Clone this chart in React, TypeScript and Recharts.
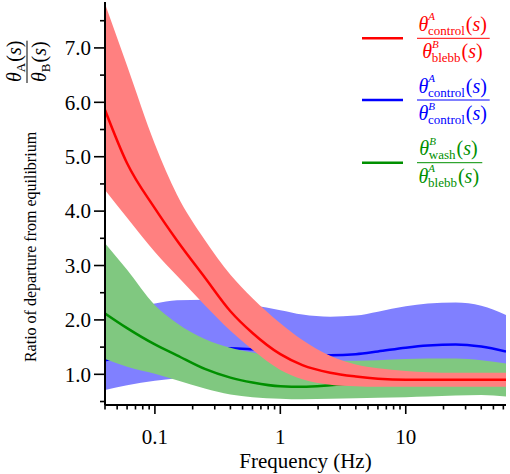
import React from "react";
import { ComposedChart, Area, XAxis, YAxis, Legend } from "recharts";

const SERIF = "Liberation Serif, Tinos, Times New Roman, DejaVu Serif, serif";

// frequency grid (Hz)
const freq = [0.04, 0.06, 0.1, 0.15, 0.25, 0.4, 0.6, 1, 1.5, 2.5, 4, 6, 10, 15, 25, 40, 63];

// theta^A_control / theta^B_blebb
const redLow = [4.39, 3.88, 3.25, 2.81, 2.27, 1.8, 1.45, 1.08, 0.91, 0.81, 0.78, 0.77, 0.77, 0.77, 0.77, 0.77, 0.77];
const redMid = [5.86, 4.88, 4.05, 3.46, 2.78, 2.16, 1.76, 1.37, 1.17, 1.03, 0.96, 0.92, 0.9, 0.9, 0.9, 0.9, 0.9];
const redHigh = [7.81, 6.67, 5.23, 4.3, 3.47, 2.83, 2.4, 1.94, 1.63, 1.34, 1.18, 1.11, 1.06, 1.04, 1.03, 1.03, 1.03];

// theta^A_control / theta^B_control
const blueLow = [0.71, 0.8, 0.88, 0.93, 0.97, 0.98, 0.97, 0.95, 0.93, 0.92, 0.93, 0.96, 1.0, 1.03, 1.04, 1.01, 0.95];
const blueMid = [1.26, 1.33, 1.4, 1.45, 1.48, 1.48, 1.46, 1.42, 1.38, 1.35, 1.37, 1.42, 1.49, 1.53, 1.55, 1.51, 1.42];
const blueHigh = [2.05, 2.2, 2.3, 2.36, 2.37, 2.33, 2.27, 2.18, 2.1, 2.06, 2.08, 2.15, 2.25, 2.3, 2.32, 2.26, 2.09];

// theta^B_wash / theta^A_blebb
const greenLow = [1.28, 1.14, 1.01, 0.89, 0.74, 0.63, 0.58, 0.55, 0.54, 0.55, 0.56, 0.57, 0.58, 0.59, 0.61, 0.62, 0.59];
const greenMid = [2.12, 1.85, 1.55, 1.35, 1.1, 0.94, 0.85, 0.78, 0.77, 0.8, 0.84, 0.87, 0.89, 0.9, 0.9, 0.9, 0.9];
const greenHigh = [3.41, 2.92, 2.27, 1.94, 1.65, 1.49, 1.4, 1.31, 1.27, 1.25, 1.25, 1.26, 1.28, 1.29, 1.29, 1.26, 1.2];

const xTicks = [
  0.04, 0.05, 0.06, 0.07, 0.08, 0.09, 0.1, 0.2, 0.3, 0.4, 0.5, 0.6, 0.7, 0.8, 0.9,
  1, 2, 3, 4, 5, 6, 7, 8, 9, 10, 20, 30, 40, 50, 60,
];
const xLabels = [0.1, 1, 10];
const yTicks = [0.5, 1, 1.5, 2, 2.5, 3, 3.5, 4, 4.5, 5, 5.5, 6, 6.5, 7, 7.5];

const legendItems = [
  { color: "#ff0000", num: ["A", "control"], den: ["B", "blebb"] },
  { color: "#0000ff", num: ["A", "control"], den: ["B", "control"] },
  { color: "#009000", num: ["B", "wash"], den: ["A", "blebb"] },
];

const data = freq.map((f, i) => ({
  f,
  red: [redLow[i], redHigh[i]],
  redMid: redMid[i],
  blue: [blueLow[i], blueHigh[i]],
  blueMid: blueMid[i],
  green: [greenLow[i], greenHigh[i]],
  greenMid: greenMid[i],
}));

// rough glyph widths, used to stack sub/superscripts
const CHAR_W: Record<string, number> = {
  a: 0.5, b: 0.53, c: 0.48, e: 0.52, h: 0.53, l: 0.22, n: 0.53, o: 0.53,
  r: 0.33, s: 0.45, t: 0.28, w: 0.72, A: 0.64, B: 0.64,
};
const textW = (s: string, size: number) =>
  s.split("").reduce((w, c) => w + (CHAR_W[c] ?? 0.5) * size, 0);

const THETA_W = 11;
const PAREN_W = 20;
const SUP = 11;
const SUB = 13;

const thetaWidth = (sup: string | null, sub: string) =>
  THETA_W + Math.max(textW(sub, SUB), sup ? textW(sup, SUP) : 0) + 1 + PAREN_W;

// θ with optional superscript and a subscript, then (s)
const Theta = ({ x, y, sup, sub }: any) => {
  const supW = sup ? textW(sup, SUP) : 0;
  const subW = textW(sub, SUB);
  return (
    <text x={x} y={y} fontSize={20} style={{ fontFamily: SERIF }}>
      <tspan fontStyle="italic">θ</tspan>
      {sup && (
        <tspan dy={-10.5} fontSize={SUP} fontStyle="italic">
          {sup}
        </tspan>
      )}
      <tspan dx={sup ? -supW : 0} dy={sup ? 14.5 : 4} fontSize={SUB}>
        {sub}
      </tspan>
      <tspan dx={Math.max(0, supW - subW) + 1} dy={-4}>
        (
      </tspan>
      <tspan fontStyle="italic">s</tspan>
      <tspan>)</tspan>
    </text>
  );
};

const LegendBox = () => {
  const rows = [38.3, 100, 162.7];
  return (
    <svg width={510} height={200} style={{ display: "block" }}>
      {legendItems.map((it, i) => {
        const cy = rows[i];
        const nw = thetaWidth(it.num[0], it.num[1]);
        const dw = thetaWidth(it.den[0], it.den[1]);
        const bw = Math.max(nw, dw) + 3;
        const x0 = 417;
        return (
          <g key={i} fill={it.color}>
            <line x1={362} x2={403} y1={cy} y2={cy} stroke={it.color} strokeWidth={2.5} />
            <line x1={x0} x2={x0 + bw} y1={cy} y2={cy} stroke={it.color} strokeWidth={1} />
            <Theta x={x0 + 1.5 + (bw - 3 - nw) / 2} y={cy - 7.5} sup={it.num[0]} sub={it.num[1]} />
            <Theta x={x0 + 1.5 + (bw - 3 - dw) / 2} y={cy + 20} sup={it.den[0]} sub={it.den[1]} />
          </g>
        );
      })}
    </svg>
  );
};

const YLabel = () => {
  const fw = thetaWidth(null, "A");
  const start = -82;
  return (
    <g transform="rotate(-90)" fill="#000">
      <text x={-247} y={36} textAnchor="middle" fontSize={16} style={{ fontFamily: SERIF }}>
        Ratio of departure from equilibrium
      </text>
      <line x1={start - 1} x2={start + fw + 1} y1={27} y2={27} stroke="#000" strokeWidth={1} />
      <Theta x={start} y={21} sup={null} sub="A" />
      <Theta x={start} y={45.5} sup={null} sub="B" />
    </g>
  );
};

const XTick = ({ x, y, payload }: any) => {
  const major = xLabels.includes(payload.value);
  return (
    <g>
      <line x1={x} x2={x} y1={y} y2={y + (major ? 9 : 4.5)} stroke="#000" strokeWidth={1.6} />
      {major && (
        <text x={x} y={y + 38.5} textAnchor="middle" fontSize={21} fill="#000" style={{ fontFamily: SERIF }}>
          {payload.value}
        </text>
      )}
    </g>
  );
};

const YTick = ({ x, y, payload }: any) => {
  const major = Number.isInteger(payload.value);
  return (
    <g>
      <line x1={x} x2={x - (major ? 11 : 5)} y1={y} y2={y} stroke="#000" strokeWidth={1.6} />
      {major && (
        <text x={x - 14} y={y} dy="0.35em" textAnchor="end" fontSize={21} fill="#000" style={{ fontFamily: SERIF }}>
          {payload.value.toFixed(1)}
        </text>
      )}
    </g>
  );
};

export default function App() {
  return (
    <div style={{ position: "absolute", left: 0, top: 0, background: "#fff", fontFamily: SERIF }}>
      <ComposedChart
        width={510}
        height={474}
        data={data}
        margin={{ top: 2, right: 4, bottom: 0, left: 0 }}
      >
        <XAxis
          dataKey="f"
          type="number"
          scale="log"
          domain={[0.04, 63]}
          allowDataOverflow
          ticks={xTicks}
          interval={0}
          tick={<XTick />}
          tickLine={false}
          tickSize={0}
          tickMargin={0}
          height={69}
          axisLine={{ stroke: "#000", strokeWidth: 2 }}
          label={{
            value: "Frequency (Hz)",
            position: "insideBottom",
            offset: 6,
            fill: "#000",
            fontSize: 21,
            style: { fontFamily: SERIF },
          }}
        />
        <XAxis
          xAxisId="top"
          orientation="top"
          type="number"
          domain={[0, 1]}
          height={0}
          tick={false}
          tickLine={false}
          axisLine={{ stroke: "#000", strokeWidth: 2 }}
        />
        <YAxis
          type="number"
          domain={[0.436, 7.844]}
          allowDataOverflow
          ticks={yTicks}
          interval={0}
          tick={<YTick />}
          tickLine={false}
          tickSize={0}
          tickMargin={0}
          width={105}
          axisLine={{ stroke: "#000", strokeWidth: 2 }}
          label={{ content: () => <YLabel /> }}
        />
        <YAxis
          yAxisId="right"
          orientation="right"
          type="number"
          domain={[0, 1]}
          width={0}
          tick={false}
          tickLine={false}
          axisLine={{ stroke: "#000", strokeWidth: 2 }}
        />
        <Legend
          layout="vertical"
          align="center"
          verticalAlign="middle"
          wrapperStyle={{ left: 0, top: 0, width: 510, height: 200 }}
          content={() => <LegendBox />}
        />
        <Area type="monotone" dataKey="blue" stroke="none" fill="#8080ff" fillOpacity={1} isAnimationActive={false} />
        <Area type="monotone" dataKey="blueMid" stroke="#0000ff" strokeWidth={2.5} fill="none" fillOpacity={0} isAnimationActive={false} />
        <Area type="monotone" dataKey="green" stroke="none" fill="#80c880" fillOpacity={1} isAnimationActive={false} />
        <Area type="monotone" dataKey="greenMid" stroke="#009000" strokeWidth={2.5} fill="none" fillOpacity={0} isAnimationActive={false} />
        <Area type="monotone" dataKey="red" stroke="none" fill="#ff8080" fillOpacity={1} isAnimationActive={false} />
        <Area type="monotone" dataKey="redMid" stroke="#ff0000" strokeWidth={2.5} fill="none" fillOpacity={0} isAnimationActive={false} />
      </ComposedChart>
    </div>
  );
}
